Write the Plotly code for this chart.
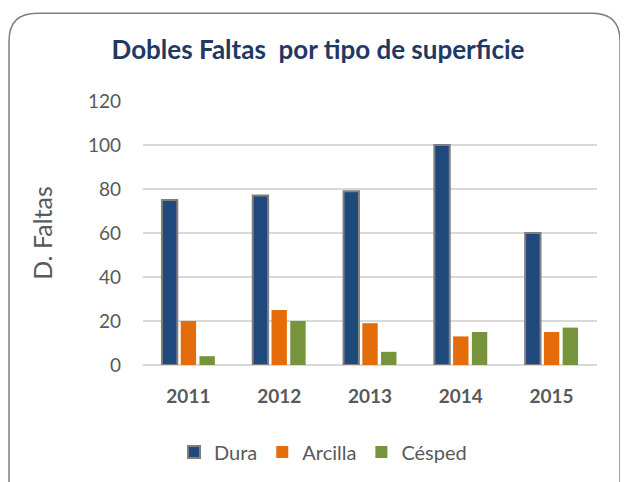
import plotly.graph_objects as go

years = ["2011", "2012", "2013", "2014", "2015"]
dura = [75, 77, 79, 100, 60]
arcilla = [20, 25, 19, 13, 15]
cesped = [4, 20, 6, 15, 17]
y_ticks = [0, 20, 40, 60, 80, 100, 120]

# page has an 8px body margin, so figure coords = screen coords - 8
W, H = 620, 474
ml, mr, mt, mb = 135, 31, 93, 116
pw, ph = W - ml - mr, H - mt - mb

def px(x):
    return (x - ml) / pw

def py(y):
    return (H - mb - y) / ph

fig = go.Figure()
fig.add_trace(go.Bar(name="Dura", x=years, y=dura, marker=dict(color="#1f497d", line=dict(color="#7f7f7f", width=2))))
fig.add_trace(go.Bar(name="Arcilla", x=years, y=arcilla, marker=dict(color="#e46c0a", line=dict(width=0))))
fig.add_trace(go.Bar(name="Césped", x=years, y=cesped, marker=dict(color="#77933c", line=dict(width=0))))

# rounded border
l, r, t, b, rad = 1, 612, 5, 520, 28
path = (f"M {px(l)},{py(b)} L {px(l)},{py(t+rad)} Q {px(l)},{py(t)} {px(l+rad)},{py(t)} "
        f"L {px(r-rad)},{py(t)} Q {px(r)},{py(t)} {px(r)},{py(t+rad)} L {px(r)},{py(b)}")

fig.update_layout(
    width=W, height=H,
    margin=dict(l=ml, r=mr, t=mt, b=mb),
    paper_bgcolor="white", plot_bgcolor="white",
    font=dict(family="Lato", color="#595959", size=19),
    title=dict(text="<b>Dobles Faltas&nbsp; por tipo de superficie</b>", x=0.5, xanchor="center",
               y=1 - 42 / H, yanchor="middle", font=dict(size=26, color="#1f3864")),
    barmode="group", bargap=0.38, bargroupgap=0.18,
    showlegend=True,
    legend=dict(orientation="h", x=px(315), xanchor="center", y=py(444), yanchor="middle",
                font=dict(size=20, color="#595959"), itemsizing="constant"),
    xaxis=dict(showline=False, ticks="", tickfont=dict(size=19, color="#595959", family="Lato"),
               ticklabelstandoff=18, tickprefix="<b>", ticksuffix="</b>"),
    yaxis=dict(range=[0, 120], tickvals=y_ticks, showgrid=True, gridcolor="#d9d9d9", gridwidth=1.5,
               zeroline=True, zerolinecolor="#d9d9d9", zerolinewidth=1.5,
               ticks="", ticklabelstandoff=21, tickfont=dict(size=19, color="#595959"),
               title=dict(text="D. Faltas", font=dict(size=25, color="#595959"), standoff=28)),
    shapes=[dict(type="path", xref="paper", yref="paper", path=path,
                 line=dict(color="#7f7f7f", width=1.5), layer="above")],
)

fig.write_html("out.html")
